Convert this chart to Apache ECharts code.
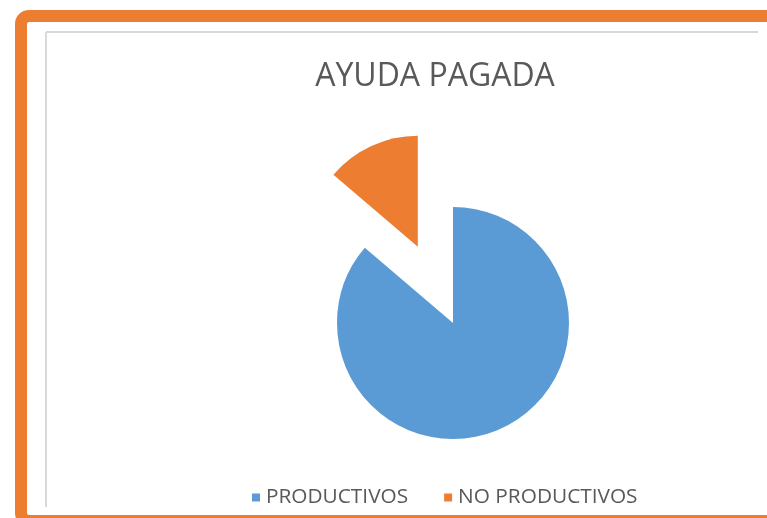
<!DOCTYPE html>
<html>
<head>
<meta charset="utf-8">
<script src="https://cdn.jsdelivr.net/npm/echarts@6/dist/echarts.min.js"></script>
<style>
  html, body { margin: 0; padding: 0; background: #ffffff; }
  #chart { width: 767px; height: 518px; }
</style>
</head>
<body>
<div id="chart"></div>
<script>
// Payment share by producer type
const titleText = 'AYUDA PAGADA';
const categories = ['PRODUCTIVOS', 'NO PRODUCTIVOS'];
const values = [86.25, 13.75];
const colors = ['#5B9BD5', '#ED7D31'];

const chart = echarts.init(document.getElementById('chart'), null, { renderer: 'canvas' });

const font = "'Open Sans', 'Noto Sans', sans-serif";
const pieCenter = [453, 323];

// Main pie: the blue slice (the exploded slice is drawn by the second series)
const mainData = categories.map((name, i) => ({
  name,
  value: values[i],
  itemStyle: { color: i === 0 ? colors[0] : 'rgba(0,0,0,0)' }
}));

// Exploded slice: slightly smaller radius, pulled out from the centre
const explodedData = categories.map((name, i) => ({
  name,
  value: values[i],
  selected: i === 1,
  itemStyle: { color: i === 1 ? colors[1] : 'rgba(0,0,0,0)' }
}));

chart.setOption({
  backgroundColor: '#ffffff',
  animation: false,
  title: {
    text: titleText,
    left: 430,
    textAlign: 'center',
    top: 56,
    textStyle: { fontFamily: font, fontSize: 32, fontWeight: 'normal', color: '#595959' }
  },
  legend: {
    data: categories.map((name, i) => ({ name, itemStyle: { color: colors[i] } })),
    left: 247,
    top: 482,
    icon: 'rect',
    itemWidth: 8,
    itemHeight: 8,
    itemGap: 36,
    selectedMode: false,
    textStyle: { fontFamily: font, fontSize: 20.8, color: '#595959', padding: [0, 0, 0, 1] }
  },
  graphic: [
    {
      type: 'rect',
      silent: true,
      shape: { x: 21, y: 16, width: 820, height: 505, r: 8 },
      style: { fill: 'none', stroke: '#ED7D31', lineWidth: 12 }
    },
    {
      type: 'line',
      silent: true,
      shape: { x1: 46, y1: 32, x2: 758, y2: 32 },
      style: { stroke: '#d9d9d9', lineWidth: 2 }
    },
    {
      type: 'line',
      silent: true,
      shape: { x1: 46, y1: 32, x2: 46, y2: 507 },
      style: { stroke: '#d9d9d9', lineWidth: 2 }
    }
  ],
  series: [
    {
      type: 'pie',
      center: pieCenter,
      radius: 116,
      startAngle: 90,
      clockwise: true,
      label: { show: false },
      labelLine: { show: false },
      silent: true,
      emphasis: { disabled: true },
      itemStyle: { borderWidth: 0 },
      data: mainData
    },
    {
      type: 'pie',
      center: pieCenter,
      radius: 111,
      startAngle: 90,
      clockwise: true,
      selectedMode: 'single',
      selectedOffset: 84,
      label: { show: false },
      labelLine: { show: false },
      silent: true,
      emphasis: { disabled: true },
      select: { itemStyle: { color: colors[1] } },
      itemStyle: { borderWidth: 0 },
      data: explodedData
    }
  ]
});
</script>
</body>
</html>
